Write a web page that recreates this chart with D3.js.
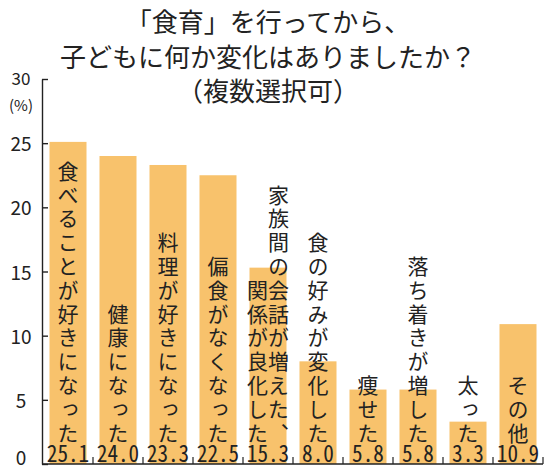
<!DOCTYPE html>
<html><head><meta charset="utf-8">
<script src="https://cdn.jsdelivr.net/npm/d3@7"></script>
<style>
html,body{margin:0;padding:0;background:#fff;}
svg{display:block;font-family:"Noto Sans CJK JP","Noto Sans",sans-serif;}
</style></head>
<body>
<script>
const titleLines = ["「食育」を行ってから、", "子どもに何か変化はありましたか？", "（複数選択可）"];
const categories = ["食べることが好きになった","健康になった","料理が好きになった","偏食がなくなった","家族間の会話が増えた、関係が良化した","食の好みが変化した","痩せた","落ち着きが増した","太った","その他"];
const labelColumns = [["食べることが好きになった"],["健康になった"],["料理が好きになった"],["偏食がなくなった"],["家族間の会話が増えた、","関係が良化した"],["食の好みが変化した"],["痩せた"],["落ち着きが増した"],["太った"],["その他"]];
const values = [25.1,24.0,23.3,22.5,15.3,8.0,5.8,5.8,3.3,10.9];
const yTicks = [0,5,10,15,20,25,30];
const unitLabel = "(%)";

const W = 547, H = 471;
const svg = d3.select("body").append("svg").attr("width", W).attr("height", H);

const x = d3.scaleBand().domain(categories).range([43, 543]).paddingInner(0.26).paddingOuter(0.13);
const y = d3.scaleLinear().domain([0, 30]).range([464, 79]);
const ink = "#222";

// title
svg.append("g").selectAll("text").data(titleLines).join("text")
  .attr("x", 268).attr("y", (d,i) => [32, 67, 101][i])
  .attr("text-anchor", "middle").attr("font-size", 26).attr("fill", ink)
  .text(d => d);

// bars
svg.append("g").selectAll("rect").data(values).join("rect")
  .attr("x", (d,i) => x(categories[i])).attr("width", x.bandwidth())
  .attr("y", d => y(d)).attr("height", d => y(0) - y(d))
  .attr("fill", "#f8c26c");

// y axis
const yAxis = svg.append("g").attr("transform", "translate(42,0)")
  .call(d3.axisLeft(y).tickValues(yTicks).tickSizeInner(-6).tickSizeOuter(0).tickPadding(0));
yAxis.select(".domain").attr("stroke", ink).attr("stroke-width", 1.4);
yAxis.selectAll(".tick line").attr("stroke", ink).attr("stroke-width", 1.4);
yAxis.selectAll(".tick text")
  .attr("x", -21).attr("text-anchor", "middle")
  .attr("font-family", "'Noto Sans CJK JP',sans-serif")
  .attr("font-size", d => d === 30 ? 17 : 19).attr("fill", ink)
  .attr("dy", d => d === 0 ? "0.05em" : (d === 30 ? "0.3em" : "0.4em"));
svg.append("text").attr("x", 21).attr("y", 111).attr("text-anchor", "middle")
  .attr("font-size", 15).attr("fill", ink).text(unitLabel);

// baseline and category boundary ticks
const baseG = svg.append("g");
baseG.append("line").attr("x1", 42).attr("x2", 543).attr("y1", y(0)).attr("y2", y(0))
  .attr("stroke", ink).attr("stroke-width", 1.4);
const step = x.step();
baseG.selectAll("line.bt").data(categories).join("line").attr("class", "bt")
  .attr("x1", d => x(d) + x.bandwidth() + (step - x.bandwidth()) / 2)
  .attr("x2", d => x(d) + x.bandwidth() + (step - x.bandwidth()) / 2)
  .attr("y1", y(0)).attr("y2", y(0) - 7)
  .attr("stroke", ink).attr("stroke-width", 1.2);

// vertical category labels
const lg = svg.append("g");
labelColumns.forEach((cols, i) => {
  const cx = x(categories[i]) + x.bandwidth() / 2;
  const n = cols.length;
  cols.forEach((t, j) => {
    const off = n === 1 ? 0 : (j === 0 ? 10.5 : -10.5);
    lg.append("text")
      .attr("x", cx + off).attr("y", 446)
      .attr("text-anchor", "end")
      .style("writing-mode", "vertical-rl")
      .attr("font-size", 21).attr("letter-spacing", 2.8)
      .attr("fill", ink)
      .text(t);
  });
});

// value labels
svg.append("g").selectAll("text").data(values).join("text")
  .attr("x", (d,i) => x(categories[i]) + x.bandwidth() / 2)
  .attr("y", 462).attr("text-anchor", "middle")
  .attr("font-family", "'Noto Sans Mono CJK JP','DejaVu Sans Mono',monospace")
  .attr("font-size", 23).attr("fill", ink)
  .attr("textLength", d => d3.format(".1f")(d).length * 10.6)
  .attr("lengthAdjust", "spacingAndGlyphs")
  .text(d => d3.format(".1f")(d));
</script>
</body></html>
